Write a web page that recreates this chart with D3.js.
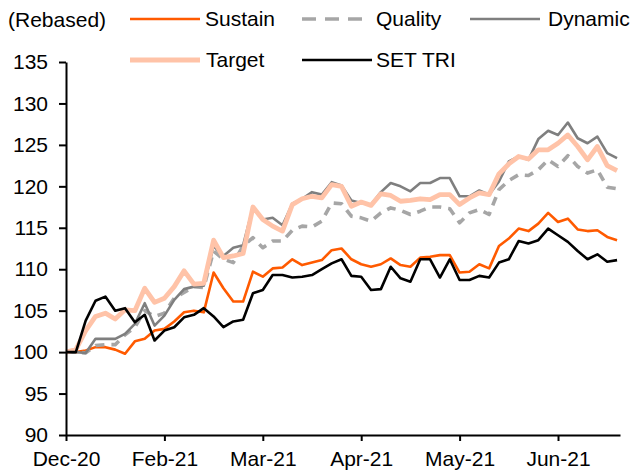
<!DOCTYPE html>
<html>
<head>
<meta charset="utf-8">
<script src="https://cdn.jsdelivr.net/npm/d3@7"></script>
<style>
  body { margin: 0; background: #fff; }
  svg text { font-family: "Liberation Sans", Arial, sans-serif; font-size: 21px; fill: #000; }
</style>
</head>
<body>
<svg id="chart" width="632" height="472"></svg>
<script>
// Data, one value every ~2 trading days (index 0 = end Dec-20)
const sustain = [100, 100, 100.2, 100.6, 100.6, 100.3, 99.8, 101.3, 101.6, 102.6,
  102.8, 103.7, 104.8, 105.0, 104.8, 109.6, 107.7, 106.1, 106.1, 109.7,
  109.1, 110.1, 110.2, 111.2, 110.5, 110.8, 111.1, 112.3, 112.5, 111.2,
  110.6, 110.3, 110.6, 111.3, 110.5, 110.3, 111.4, 111.5, 111.7, 111.7,
  109.6, 109.7, 110.6, 110.1, 112.8, 113.7, 114.9, 114.6, 115.5, 116.8,
  115.7, 116.1, 114.8, 114.6, 114.7, 113.9, 113.5];
const quality = [100, 100, 99.9, 100.8, 100.9, 100.9, 102.1, 103.0, 105.0, 104.3,
  104.7, 106.5, 107.2, 107.9, 107.8, 112.2, 111.2, 110.8, 112.8, 113.8,
  112.6, 113.4, 113.4, 114.7, 115.2, 115.1, 115.8, 118.0, 117.9, 116.4,
  116.2, 115.8, 116.8, 117.4, 117.1, 116.6, 117.0, 117.5, 117.5, 117.3,
  115.6, 116.8, 117.2, 116.6, 119.6, 120.7, 121.4, 121.3, 122.0, 123.2,
  122.4, 123.7, 122.4, 121.6, 122.0, 119.9, 119.7];
const dynamic = [100, 100, 99.9, 101.6, 101.6, 101.6, 102.2, 103.4, 105.9, 103.2,
  104.4, 106.3, 107.6, 107.9, 108.0, 112.8, 111.6, 112.6, 112.9, 117.5,
  116.0, 116.2, 115.3, 117.9, 118.5, 119.3, 119.0, 120.5, 120.1, 118.3,
  118.0, 117.8, 119.3, 120.4, 120.0, 119.4, 120.4, 120.4, 121.0, 121.0,
  118.8, 118.8, 119.5, 119.0, 120.6, 123.0, 123.6, 123.2, 125.7, 126.7,
  126.2, 127.7, 125.8, 125.2, 126.0, 124.0, 123.4];
const target = [100, 100.3, 102.6, 104.3, 104.7, 104.0, 105.1, 105.0, 107.7, 106.0,
  106.5, 107.9, 109.8, 108.2, 108.3, 113.5, 111.4, 111.6, 111.9, 117.5,
  116.0, 115.2, 114.6, 117.8, 118.5, 118.8, 118.6, 120.2, 120.0, 117.6,
  118.1, 117.7, 119.1, 118.9, 118.2, 118.3, 118.5, 118.4, 119.0, 119.0,
  117.8, 118.6, 119.2, 119.0, 121.5, 122.7, 123.6, 123.3, 124.4, 124.4,
  125.2, 126.2, 124.8, 123.2, 124.8, 122.5, 121.9];
const setTri = [100, 100, 103.8, 106.2, 106.7, 105.0, 105.3, 103.6, 104.5, 101.4,
  102.6, 103.0, 104.2, 104.5, 105.3, 104.3, 103.0, 103.7, 103.9, 107.1,
  107.5, 109.3, 109.3, 109.0, 109.1, 109.3, 110.0, 110.7, 111.2, 109.2,
  109.1, 107.5, 107.6, 110.3, 108.9, 108.5, 111.2, 111.2, 109.0, 111.2,
  108.7, 108.7, 109.2, 109.0, 110.8, 111.2, 113.4, 113.1, 113.5, 114.9,
  114.1, 113.3, 112.2, 111.2, 111.8, 110.9, 111.1];

const xTickIdx = [0, 10, 20, 30, 40, 50];
const xTickLabels = ["Dec-20", "Feb-21", "Mar-21", "Apr-21", "May-21", "Jun-21"];
const yTicks = [90, 95, 100, 105, 110, 115, 120, 125, 130, 135];

const series = [
  { name: "Sustain", values: sustain, color: "#ff5a00", width: 2.6, dash: null },
  { name: "Quality", values: quality, color: "#a6a6a6", width: 3.6, dash: "9,7" },
  { name: "Dynamic", values: dynamic, color: "#7f7f7f", width: 2.6, dash: null },
  { name: "Target", values: target, color: "#ffc3a8", width: 4.8, dash: null },
  { name: "SET TRI", values: setTri, color: "#000000", width: 2.6, dash: null }
];

const svg = d3.select("#chart");

const x = d3.scaleLinear().domain([0, 56.3]).range([66, 620]);
const y = d3.scaleLinear().domain([90, 135]).range([435, 62]);

// Lines
const line = d3.line()
  .x((d, i) => x(i))
  .y(d => y(d));

svg.append("g")
  .selectAll("path")
  .data(series)
  .join("path")
  .attr("d", d => line(d.values))
  .attr("fill", "none")
  .attr("stroke", d => d.color)
  .attr("stroke-width", d => d.width)
  .attr("stroke-dasharray", d => d.dash)
  .attr("stroke-linejoin", "round");

// Axes
const xAxis = d3.axisBottom(x)
  .tickValues(xTickIdx)
  .tickFormat((d, i) => xTickLabels[i])
  .tickSize(6)
  .tickSizeOuter(0)
  .tickPadding(10);

const yAxis = d3.axisLeft(y)
  .tickValues(yTicks)
  .tickSize(7)
  .tickSizeOuter(0)
  .tickPadding(11);

const gx = svg.append("g").attr("transform", "translate(0,435)").call(xAxis);
const gy = svg.append("g").attr("transform", "translate(66,0)").call(yAxis);

[gx, gy].forEach(g => {
  g.select(".domain").attr("stroke", "#000").attr("stroke-width", 2);
  g.selectAll(".tick line").attr("stroke", "#000").attr("stroke-width", 2);
  g.selectAll("text").attr("font-size", 21).attr("font-family", "Liberation Sans, Arial, sans-serif").attr("fill", "#000");
});

// Legend
svg.append("text").attr("x", 8).attr("y", 27).text("(Rebased)");

const legendPos = [
  { lx: 130, ly: 19, tx: 205 },
  { lx: 302, ly: 19, tx: 376 },
  { lx: 470, ly: 19, tx: 548 },
  { lx: 130, ly: 60, tx: 206 },
  { lx: 302, ly: 60, tx: 376 }
];

const leg = svg.append("g")
  .selectAll("g")
  .data(series)
  .join("g");

leg.append("line")
  .attr("x1", (d, i) => legendPos[i].lx)
  .attr("x2", (d, i) => legendPos[i].lx + (d.dash ? 60 : 70))
  .attr("y1", (d, i) => legendPos[i].ly)
  .attr("y2", (d, i) => legendPos[i].ly)
  .attr("stroke", d => d.color)
  .attr("stroke-width", d => d.width)
  .attr("stroke-dasharray", d => d.dash ? "14,9" : null);

leg.append("text")
  .attr("x", (d, i) => legendPos[i].tx)
  .attr("y", (d, i) => legendPos[i].ly + 7)
  .text(d => d.name);
</script>
</body>
</html>
